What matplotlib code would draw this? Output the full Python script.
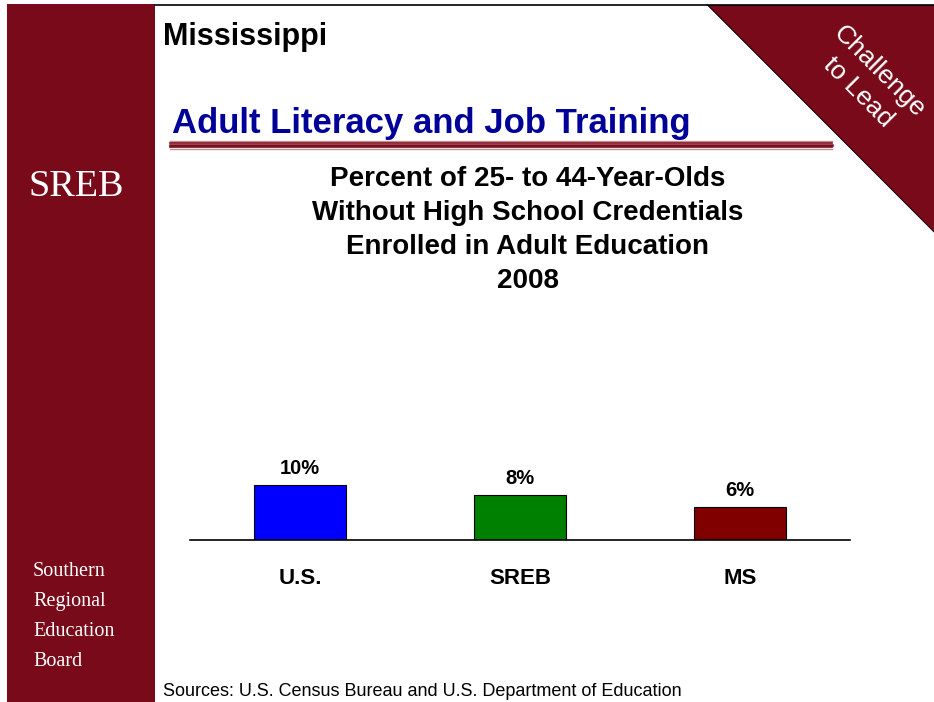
import matplotlib
matplotlib.use("Agg")
import matplotlib.pyplot as plt
from matplotlib.patches import Rectangle, Polygon

# data
categories = ["U.S.", "SREB", "MS"]
values = [10.0, 8.2, 6.0]
value_labels = ["10%", "8%", "6%"]
bar_colors = ["#0000FF", "#008000", "#800000"]

title_lines = ["Percent of 25- to 44-Year-Olds",
               "Without High School Credentials",
               "Enrolled in Adult Education",
               "2008"]
side_lines = ["Southern", "Regional", "Education", "Board"]

MAROON = "#780A19"
W, H = 934, 702

fig = plt.figure(figsize=(W / 100, H / 100), dpi=100)
fig.patch.set_facecolor("white")

# slide decorations in pixel coordinates
bg = fig.add_axes([0, 0, 1, 1], zorder=0)
bg.set_xlim(0, W)
bg.set_ylim(H, 0)
bg.axis("off")

bg.add_patch(Rectangle((7, 4), 148, H - 4, color=MAROON, lw=0))
bg.plot([155, W], [4.5, 4.5], color="black", lw=1.2)
bg.add_patch(Polygon([(707, 4.5), (W, 4.5), (W, 232)], closed=True,
                     facecolor=MAROON, edgecolor="none"))
bg.plot([707, W], [4.5, 232], color="black", lw=0.6)

# double rule under heading
bg.plot([170, 832], [141.3, 141.3], color="#C98A93", lw=1.0)
bg.plot([170, 832], [142.6, 142.6], color=MAROON, lw=1.2)
bg.plot([170, 832], [145.0, 145.0], color=MAROON, lw=1.8)
bg.plot([170, 832], [147.4, 147.4], color=MAROON, lw=1.2)
bg.plot([170, 832], [148.7, 148.7], color="#C98A93", lw=1.0)

sans = ["Liberation Sans", "DejaVu Sans"]
serif = ["Liberation Serif", "DejaVu Serif"]

bg.text(163, 37, "Mississippi", fontsize=22, fontweight="bold",
        family=sans, ha="left", va="center", color="black")
bg.text(172, 123, "Adult Literacy and Job Training", fontsize=25,
        fontweight="bold", family=sans, ha="left", va="center",
        color="#000099")
bg.text(76, 187, "SREB", fontsize=27.5, family=serif, ha="center",
        va="center", color="white")
bg.text(869, 82, "Challenge\nto Lead", fontsize=19, family=sans,
        ha="center", va="center", color="white", rotation=-45,
        rotation_mode="anchor", linespacing=1.3)

for i, line in enumerate(title_lines):
    bg.text(528, 179 + 34 * i, line, fontsize=20, fontweight="bold",
            family=sans, ha="center", va="center", color="black")

for i, line in enumerate(side_lines):
    bg.text(33, 571 + 30.3 * i, line, fontsize=14.5, family=serif,
            ha="left", va="center", color="white")

bg.text(163, 692, "Sources: U.S. Census Bureau and U.S. Department of Education",
        fontsize=13, family=sans, ha="left", va="center", color="black")

# bar chart
ax = fig.add_axes([190 / W, 1 - 540 / H, 660 / W, 220 / H], zorder=1)
ax.patch.set_alpha(0)
x = range(len(categories))
bars = ax.bar(x, values, width=0.42, color=bar_colors,
              edgecolor="black", linewidth=0.8)
ax.set_xlim(-0.5, len(categories) - 0.5)
ax.set_ylim(0, 40)

for b, lab in zip(bars, value_labels):
    ax.annotate(lab, (b.get_x() + b.get_width() / 2, b.get_height()),
                xytext=(0, 5), textcoords="offset points", ha="center",
                va="bottom", fontsize=14.5, fontweight="bold",
                family=sans)

ax.set_xticks(list(x))
ax.set_xticklabels(categories, fontsize=16, fontweight="bold",
                   family=sans)
ax.tick_params(axis="x", length=0, pad=20)
ax.set_yticks([])
for s in ("top", "left", "right"):
    ax.spines[s].set_visible(False)
ax.spines["bottom"].set_linewidth(1.2)

fig.savefig("out.png", dpi=100)
